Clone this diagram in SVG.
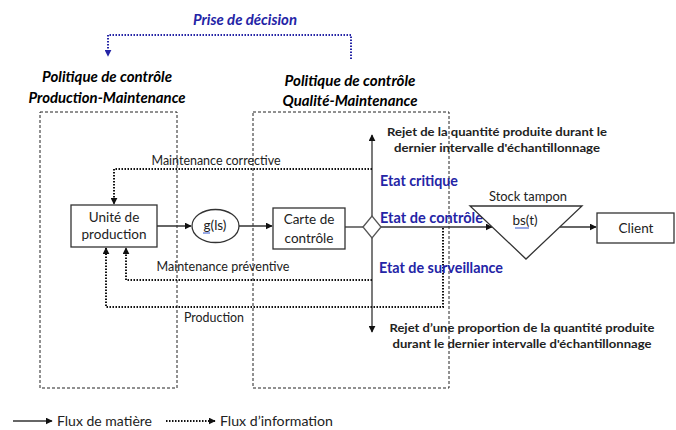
<svg xmlns="http://www.w3.org/2000/svg" width="676" height="430" viewBox="0 0 676 430">
<style>
  text { font-family: Lato, "Liberation Sans", sans-serif; fill: #222; }
  .title { font-size: 15px; font-weight: bold; font-style: italic; fill: #000; }
  .btitle { font-size: 15px; font-weight: bold; font-style: italic; fill: #2424a6; }
  .state { font-size: 14.5px; font-weight: bold; fill: #2424a6; }
  .lbl { font-size: 12.5px; fill: #222; }
  .leg { font-size: 13.5px; fill: #222; }
  .rej { font-size: 11.5px; font-weight: bold; fill: #222; }
  .node { font-size: 13.5px; fill: #222; }
  .box { fill: #fff; stroke: #333; stroke-width: 1.3; }
  .zone { fill: none; stroke: #222; stroke-width: 1; stroke-dasharray: 3 2; }
  .solid { fill: none; stroke: #333; stroke-width: 1.3; }
  .dot { fill: none; stroke: #111; stroke-width: 2; stroke-dasharray: 1.5 1.5; }
  .bdot { fill: none; stroke: #2424a6; stroke-width: 2; stroke-dasharray: 1.5 1.5; }
</style>
<defs>
  <marker id="ah" viewBox="0 0 10 10" refX="9" refY="5" markerWidth="7" markerHeight="7" markerUnits="userSpaceOnUse" orient="auto">
    <path d="M0,0 L10,5 L0,10 z" fill="#111"/>
  </marker>
  <marker id="ahb" viewBox="0 0 10 10" refX="9" refY="5" markerWidth="7" markerHeight="7" markerUnits="userSpaceOnUse" orient="auto">
    <path d="M0,0 L10,5 L0,10 z" fill="#2424a6"/>
  </marker>
</defs>

<!-- zones -->
<g id="zone-production-maintenance">
  <rect class="zone" x="40" y="112" width="137" height="276"/>
  <text class="title" x="107" y="82" text-anchor="middle" textLength="130" lengthAdjust="spacingAndGlyphs">Politique de contrôle</text>
  <text class="title" x="107" y="103" text-anchor="middle" textLength="157" lengthAdjust="spacingAndGlyphs">Production-Maintenance</text>
</g>
<g id="zone-qualite-maintenance">
  <rect class="zone" x="253" y="112" width="196" height="276"/>
  <text class="title" x="350" y="86" text-anchor="middle" textLength="131" lengthAdjust="spacingAndGlyphs">Politique de contrôle</text>
  <text class="title" x="350" y="106" text-anchor="middle" textLength="135" lengthAdjust="spacingAndGlyphs">Qualité-Maintenance</text>
</g>

<!-- connectors -->
<g id="connectors">
  <path class="bdot" d="M351,59 L351,35 L108,35 L108,56" marker-end="url(#ahb)"/>
  <line class="solid" x1="157" y1="226" x2="191" y2="226" marker-end="url(#ah)"/>
  <line class="solid" x1="239" y1="226" x2="272" y2="226" marker-end="url(#ah)"/>
  <line class="solid" x1="345" y1="227" x2="363" y2="227"/>
  <line class="solid" x1="381" y1="227" x2="492" y2="227" marker-end="url(#ah)"/>
  <line class="solid" x1="560" y1="227" x2="596" y2="227" marker-end="url(#ah)"/>
  <line class="solid" x1="372" y1="216" x2="372" y2="135" marker-end="url(#ah)"/>
  <line class="solid" x1="372" y1="238" x2="372" y2="332" marker-end="url(#ah)"/>
  <path class="dot" d="M372,169 L114,169 L114,204" marker-end="url(#ah)"/>
  <path class="dot" d="M372,280 L126,280 L126,248" marker-end="url(#ah)"/>
  <path class="dot" d="M443,228 L443,307 L106,307 L106,248" marker-end="url(#ah)"/>
</g>

<g id="label-decision">
  <text class="btitle" x="245" y="25" text-anchor="middle" textLength="104" lengthAdjust="spacingAndGlyphs">Prise de décision</text>
</g>
<g id="labels-flows">
  <text class="lbl" x="216" y="165" text-anchor="middle" textLength="129" lengthAdjust="spacingAndGlyphs">Maintenance corrective</text>
  <text class="lbl" x="223" y="271" text-anchor="middle" textLength="133" lengthAdjust="spacingAndGlyphs">Maintenance préventive</text>
  <text class="lbl" x="214" y="322" text-anchor="middle" textLength="60" lengthAdjust="spacingAndGlyphs">Production</text>
</g>

<g id="unite-production">
  <rect class="box" x="71" y="205" width="86" height="42"/>
  <text class="node" x="114" y="222" text-anchor="middle">Unité de</text>
  <text class="node" x="114" y="239" text-anchor="middle">production</text>
</g>
<g id="g-ls">
  <ellipse class="box" cx="215.5" cy="226" rx="23.5" ry="16.5"/>
  <text class="node" x="215" y="230" text-anchor="middle">g(ls)</text>
  <line x1="203" y1="233" x2="210" y2="233" stroke="#3355cc" stroke-width="1"/>
</g>
<g id="carte-controle">
  <rect class="box" x="273" y="208" width="72" height="41"/>
  <text class="node" x="309" y="224" text-anchor="middle">Carte de</text>
  <text class="node" x="309" y="243" text-anchor="middle">contrôle</text>
</g>
<g id="decision">
  <polygon points="363,227 372,216 381,227 372,238" fill="#fff" stroke="#555" stroke-width="1.3"/>
</g>
<g id="etats">
  <text class="state" x="380" y="186" textLength="78" lengthAdjust="spacingAndGlyphs">Etat critique</text>
  <text class="state" x="380" y="223" textLength="103" lengthAdjust="spacingAndGlyphs">Etat de contrôle</text>
  <text class="state" x="379" y="273" textLength="124" lengthAdjust="spacingAndGlyphs">Etat de surveillance</text>
</g>
<g id="rejet-haut">
  <text class="rej" x="497" y="136" text-anchor="middle" textLength="220" lengthAdjust="spacingAndGlyphs">Rejet de la quantité produite durant le</text>
  <text class="rej" x="497" y="152" text-anchor="middle" textLength="206" lengthAdjust="spacingAndGlyphs">dernier intervalle d'échantillonnage</text>
</g>
<g id="rejet-bas">
  <text class="rej" x="522" y="332" text-anchor="middle" textLength="265" lengthAdjust="spacingAndGlyphs">Rejet d’une proportion de la quantité produite</text>
  <text class="rej" x="522" y="348" text-anchor="middle" textLength="259" lengthAdjust="spacingAndGlyphs">durant le dernier intervalle d'échantillonnage</text>
</g>
<g id="stock-tampon">
  <polygon points="470,206 582,206 526,259" fill="#fff" stroke="#333" stroke-width="1.3"/>
  <text class="node" x="528" y="201" text-anchor="middle" textLength="78" lengthAdjust="spacingAndGlyphs">Stock tampon</text>
  <text class="node" x="525" y="225" text-anchor="middle">bs(t)</text>
  <line x1="515" y1="228" x2="529" y2="228" stroke="#3355cc" stroke-width="1"/>
</g>
<g id="client">
  <rect class="box" x="597" y="213" width="77" height="30"/>
  <text class="node" x="636" y="233" text-anchor="middle" font-size="14.5">Client</text>
</g>

<g id="legend">
  <line class="solid" x1="13" y1="421" x2="52" y2="421" marker-end="url(#ah)"/>
  <text class="leg" x="57" y="426" textLength="95" lengthAdjust="spacingAndGlyphs">Flux de matière</text>
  <line class="dot" x1="166" y1="421" x2="215" y2="421" marker-end="url(#ah)"/>
  <text class="leg" x="220" y="426" textLength="113" lengthAdjust="spacingAndGlyphs">Flux d’information</text>
</g>
</svg>
